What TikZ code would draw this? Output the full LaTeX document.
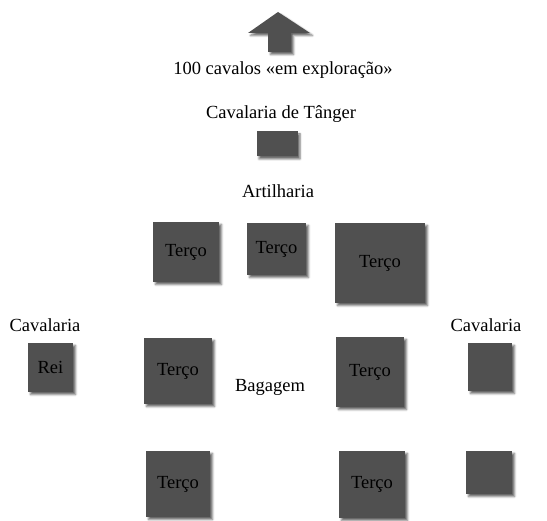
\documentclass[tikz,border=0pt]{standalone}
\usepackage{fontspec}
\setmainfont{Liberation Serif}
\usetikzlibrary{shadows,shadows.blur}
\definecolor{boxgray}{HTML}{505050}
\tikzset{
  unit/.style={draw=none, fill=boxgray, inner sep=0pt, text=black,
    blur shadow={shadow xshift=2.5pt, shadow yshift=-2.5pt, shadow blur radius=2pt, shadow opacity=60}},
  lbl/.style={inner sep=0pt, text=black},
}
\begin{document}
\begin{tikzpicture}[x=1pt,y=-1pt,font=\fontsize{18.5}{22}\selectfont]
\useasboundingbox (0,0) rectangle (547,521);
% arrow
\fill[boxgray, blur shadow={shadow xshift=2.5pt, shadow yshift=-2.5pt, shadow blur radius=2pt, shadow opacity=60}]
  (278,12) -- (310,33) -- (291,33) -- (291,52) -- (268,52) -- (268,33) -- (248,33) -- cycle;
\node[lbl] (scouts) at (283,70) {100 cavalos «em exploração»};
\node[lbl] (tangerlbl) at (281,114) {Cavalaria de Tânger};
\node[unit, minimum width=41pt, minimum height=25pt] (tanger) at (277,144) {};
\node[lbl] (art) at (278,191) {Artilharia};
% row 1
\node[unit, minimum width=66pt, minimum height=60pt] (t1) at (186,252) {Terço};
\node[unit, minimum width=59pt, minimum height=52pt] (t2) at (276.5,249) {Terço};
\node[unit, minimum width=90pt, minimum height=80pt] (t3) at (380,263) {Terço};
% row 2
\node[lbl] (cavl) at (45,325) {Cavalaria};
\node[lbl] (cavr) at (486,325) {Cavalaria};
\node[unit, minimum width=45pt, minimum height=49pt] (rei) at (50.5,367.5) {Rei};
\node[unit, minimum width=68pt, minimum height=66pt] (t4) at (178,371) {Terço};
\node[lbl] (bag) at (270,387) {Bagagem};
\node[unit, minimum width=68pt, minimum height=70pt] (t5) at (370,372) {Terço};
\node[unit, minimum width=44pt, minimum height=48pt] (r1) at (490,367) {};
% row 3
\node[unit, minimum width=64pt, minimum height=66pt] (t6) at (178,484) {Terço};
\node[unit, minimum width=66pt, minimum height=67pt] (t7) at (372,484.5) {Terço};
\node[unit, minimum width=46pt, minimum height=43pt] (r2) at (489,472.5) {};
\end{tikzpicture}
\end{document}
